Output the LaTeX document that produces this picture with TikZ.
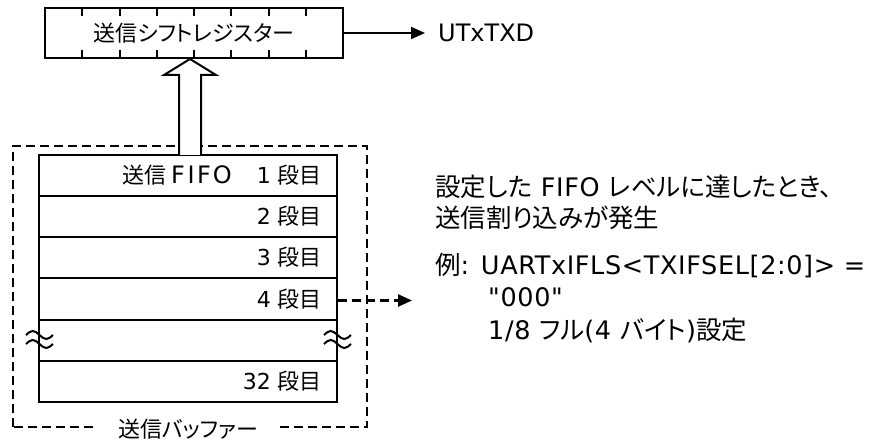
\documentclass[tikz,border=0pt]{standalone}
\usepackage{fontspec}
\setmainfont{DejaVu Sans}
\newfontfamily\lat{DejaVu Sans}
\newfontfamily\jp[RawFeature=+palt]{Noto Sans CJK JP}
\usetikzlibrary{arrows.meta}
\tikzset{
  box/.style={draw, line width=2pt, minimum width=298pt, inner sep=0pt, fill=white},
  row/.style={box, minimum height=41.17pt},
  lbl/.style={font=\fontsize{22}{26}\selectfont, inner sep=0pt, anchor=base east},
  note/.style={font=\fontsize{25.5}{30}\selectfont\addfontfeature{LetterSpace=2.5}, inner sep=0pt, anchor=base west},
  dbox/.style={line width=2.5pt, dash pattern=on 9pt off 5pt},
  arr/.style={-{Triangle[length=14pt,width=12pt]}, line width=2pt},
  tickln/.style={line width=2pt},
  wave/.style={line width=2pt},
}
\begin{document}
\begin{tikzpicture}[x=1pt,y=-1pt]
\useasboundingbox (0,0) rectangle (876,443);
% buffer (dashed)
\draw[dbox] (13,427) -- (13,146) -- (367,146) -- (367,427) -- cycle;
\node[fill=white, inner xsep=20pt, inner ysep=2pt, font=\fontsize{22}{26}\selectfont] (buf) at (188,429) {\jp 送信バッファー};
% shift register
\node[box, minimum height=50pt, font=\fontsize{22}{26}\selectfont] (sr) at (194,33) {\jp 送信シフトレジスター};
\foreach \i in {1,...,7}{
  \draw[tickln] (45+\i*37.25,8) -- (45+\i*37.25,16);
  \draw[tickln] (45+\i*37.25,58) -- (45+\i*37.25,50);
}
\node[font=\fontsize{24}{28}\selectfont, inner sep=0pt, anchor=west] (out) at (438,33) {UTxTXD};
\draw[arr] (sr.east) -- ([xshift=-13pt]out.west);
% FIFO rows
\node[row] (r1) at (188,175.58) {};
\node[row] (r2) at (188,216.75) {};
\node[row] (r3) at (188,257.92) {};
\node[row] (r4) at (188,299.08) {};
\node[row] (r5) at (188,340.25) {};
\node[row] (r6) at (188,381.42) {};
\node[lbl, anchor=base west] (sx) at (122,183.5) {\jp 送信};
\node[lbl, font=\fontsize{24}{28}\selectfont] (fifo) at (232,183.5) {F\hspace{2.5pt}I\hspace{2.5pt}F\hspace{2pt}O};
\node[lbl] (l1) at (322,183.5) {1 {\jp 段目}};
\node[lbl] (l2) at (322,224.7) {2 {\jp 段目}};
\node[lbl] (l3) at (322,265.9) {3 {\jp 段目}};
\node[lbl] (l4) at (322,307.1) {4 {\jp 段目}};
\node[lbl] (l6) at (322,389.4) {32 {\jp 段目}};
% break marks
\foreach \cx in {39,337}{
  \draw[wave] (\cx-13,335) sin (\cx-6.25,331) cos (\cx+0.5,335) sin (\cx+7.25,339) cos (\cx+14,335);
  \draw[wave] (\cx-13,344) sin (\cx-6.25,340) cos (\cx+0.5,344) sin (\cx+7.25,348) cos (\cx+14,344);
}
% hollow arrow
\draw[line width=2pt, fill=white] (179,155) -- (179,75) -- (164,75) -- (190,59) -- (216,75) -- (201,75) -- (201,155);
% dashed arrow to note
\coordinate (tip) at (412,300.5);
\draw[dbox, -{Triangle[length=14pt,width=12pt]}] (r4.east |- tip) -- (tip);
% notes
\node[note] (n1) at (435,197) {{\jp 設定した} FIFO {\jp レベルに達したとき、}};
\node[note] (n2) at (435,228) {\jp 送信割り込みが発生};
\node[note] (n3) at (435,275) {{\jp 例}: UARTxIFLS<TXIFSEL[2:0]> =};
\node[note] (n4) at (488,307) {\lat\addfontfeature{LetterSpace=2.5}"000"};
\node[note] (n5) at (488,340) {1/8 {\jp フル}(4 {\jp バイト}){\jp 設定}};
\end{tikzpicture}
\end{document}
